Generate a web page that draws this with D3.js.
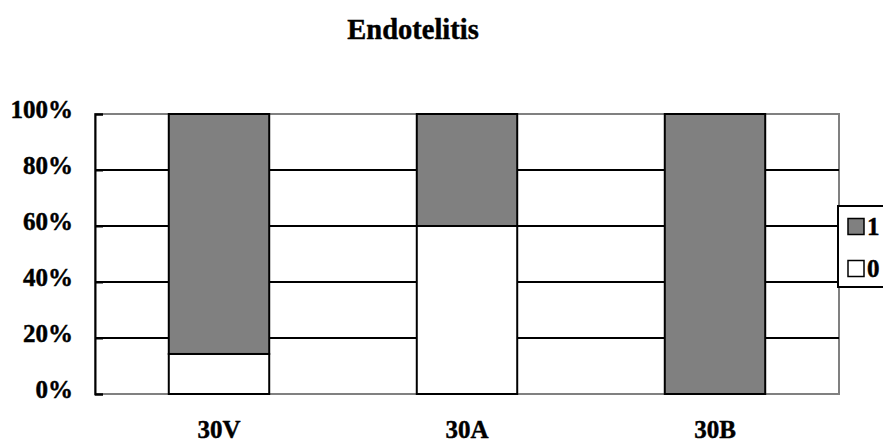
<!DOCTYPE html>
<html>
<head>
<meta charset="utf-8">
<script src="https://cdn.jsdelivr.net/npm/d3@7"></script>
<style>
  html, body { margin: 0; padding: 0; background: #fff; }
  svg { display: block; }
  svg text { font-family: "Times New Roman", "Liberation Serif", "DejaVu Serif", serif !important; font-weight: 700; fill: #000; stroke: #000; stroke-width: 0.45px; }
</style>
</head>
<body>
<svg id="chart" width="883" height="443"></svg>
<script>
// Share of each grade per group (percent of cases)
const categories = ["30V", "30A", "30B"];
const series = ["0", "1"];
const share0 = [14.3, 60, 0];
const share1 = [85.7, 40, 100];
const yTicks = [0, 20, 40, 60, 80, 100];
const chartTitle = "Endotelitis";

const colors = { "0": "#ffffff", "1": "#808080" };

const svg = d3.select("#chart");
const plot = { left: 95, right: 839, top: 114, bottom: 394 };

const x = d3.scaleBand().domain(categories).range([plot.left, plot.right]).padding(0);
const y = d3.scaleLinear().domain([0, 100]).range([plot.bottom, plot.top]);
const barW = x.bandwidth() * 0.405;

// Title
svg.append("text")
  .attr("x", 413).attr("y", 39)
  .attr("text-anchor", "middle")
  .style("font-size", "28.5px")
  .text(chartTitle);

// Plot frame (gray)
svg.append("rect")
  .attr("x", plot.left).attr("y", plot.top)
  .attr("width", plot.right - plot.left).attr("height", plot.bottom - plot.top)
  .attr("fill", "none").attr("stroke", "#808080").attr("stroke-width", 2);

// Horizontal gridlines
svg.append("g")
  .selectAll("line")
  .data(yTicks.filter(t => t > 0 && t < 100))
  .join("line")
  .attr("x1", plot.left).attr("x2", plot.right)
  .attr("y1", d => y(d)).attr("y2", d => y(d))
  .attr("stroke", "#000").attr("stroke-width", 2);

// Stacked bars
const rows = categories.map((c, i) => ({ cat: c, "0": share0[i], "1": share1[i] }));
const stacked = d3.stack().keys(series)(rows);
svg.append("g")
  .selectAll("g")
  .data(stacked)
  .join("g")
  .attr("fill", d => colors[d.key])
  .selectAll("rect")
  .data(d => d.filter(s => s[1] - s[0] > 0))
  .join("rect")
  .attr("x", d => x(d.data.cat) + (x.bandwidth() - barW) / 2)
  .attr("width", barW)
  .attr("y", d => y(d[1]))
  .attr("height", d => y(d[0]) - y(d[1]))
  .attr("stroke", "#000").attr("stroke-width", 2);

// Y axis: ticks inward, labels on the left
const yAxis = d3.axisLeft(y).tickValues(yTicks).tickFormat(d => d + "%").tickSize(-8).tickPadding(22);
const gy = svg.append("g").attr("transform", `translate(${plot.left},0)`).call(yAxis)
  .attr("font-family", null).attr("font-size", null);
gy.select(".domain").attr("stroke", "#000").attr("stroke-width", 2);
gy.selectAll(".tick line").attr("stroke", "#000").attr("stroke-width", 2);
gy.selectAll(".tick text")
  .style("font-size", "25px")
  .attr("fill", "#000")
  .attr("dy", "0.15em");

// X axis labels
const xAxis = d3.axisBottom(x).tickSize(0).tickPadding(26);
const gx = svg.append("g").attr("transform", `translate(0,${plot.bottom})`).call(xAxis)
  .attr("font-family", null).attr("font-size", null);
gx.select(".domain").remove();
gx.selectAll(".tick text")
  .style("font-size", "25px")
  .attr("fill", "#000");

// Legend
const legend = svg.append("g");
legend.append("rect")
  .attr("x", 838).attr("y", 206).attr("width", 60).attr("height", 81)
  .attr("fill", "#fff").attr("stroke", "#000").attr("stroke-width", 2);
const legendItems = ["1", "0"];
const ly = d3.scalePoint().domain(legendItems).range([226.5, 268.5]);
legendItems.forEach(k => {
  legend.append("rect")
    .attr("x", 848).attr("y", ly(k) - 8).attr("width", 16).attr("height", 16)
    .attr("fill", colors[k]).attr("stroke", "#000").attr("stroke-width", 1.5);
  legend.append("text")
    .attr("x", 867).attr("y", ly(k) + 8.5)
    .style("font-size", "25px")
    .text(k);
});
</script>
</body>
</html>
